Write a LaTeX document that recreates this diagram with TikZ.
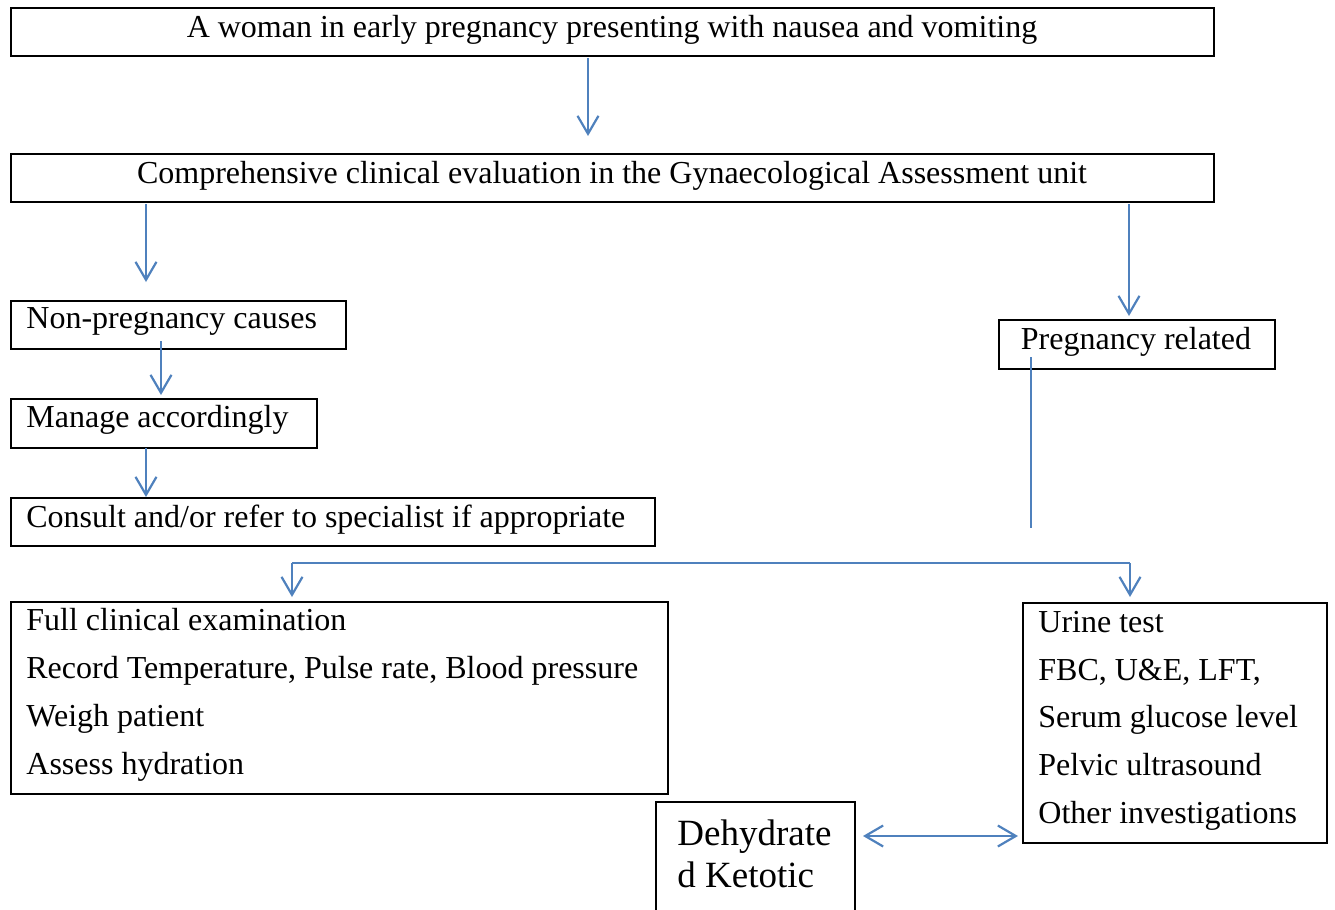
\documentclass[tikz,border=0pt]{standalone}
\usepackage{fontspec}
\setmainfont{Liberation Serif}
\usetikzlibrary{arrows.meta,calc}
\definecolor{arrowblue}{HTML}{4F81BD}
\begin{document}
\begin{tikzpicture}[x=0.5pt,y=-0.5pt,
  box/.style={draw=black, line width=1pt, rectangle, inner sep=0pt, outer sep=0pt, anchor=north west},
  txt/.style={inner sep=0pt, font=\fontsize{16pt}{19pt}\selectfont},
  bigtxt/.style={inner sep=0pt, font=\fontsize{18.5pt}{22pt}\selectfont},
  arr/.style={draw=arrowblue, line width=1.1pt, -{Straight Barb[length=9pt,width=10.5pt,line width=1.1pt]}},
  dblarr/.style={draw=arrowblue, line width=1.1pt, {Straight Barb[length=9pt,width=10.5pt,line width=1.1pt]}-{Straight Barb[length=9pt,width=10.5pt,line width=1.1pt]}},
  plainline/.style={draw=arrowblue, line width=1.1pt}]
\useasboundingbox (0,0) rectangle (1335,910);
\clip (0,0) rectangle (1335,910);

% boxes
\node[box, minimum width=601.5pt, minimum height=24pt] (b1) at (11,8) {};
\node[box, minimum width=601.5pt, minimum height=24pt] (b2) at (11,154) {};
\node[box, minimum width=167.5pt, minimum height=24pt] (np) at (11,301) {};
\node[box, minimum width=153pt, minimum height=24.5pt] (ma) at (11,399) {};
\node[box, minimum width=322pt, minimum height=24pt] (co) at (11,498) {};
\node[box, minimum width=138pt, minimum height=24.5pt] (pr) at (999,320) {};
\node[box, minimum width=328.5pt, minimum height=96pt] (fc) at (11,602) {};
\node[box, minimum width=152pt, minimum height=120pt] (ur) at (1023,603) {};
\node[box, line width=0.8pt, minimum width=99.5pt, minimum height=65pt] (de) at (656,802) {};

% texts
\node[txt, anchor=base] (t1) at (612,37) {A woman in early pregnancy presenting with nausea and vomiting};
\node[txt, anchor=base] (t2) at (612,183) {Comprehensive clinical evaluation in the Gynaecological Assessment unit};
\node[txt, anchor=base west] (tnp) at (26,328) {Non-pregnancy causes};
\node[txt, anchor=base west] (tma) at (26,427) {Manage accordingly};
\node[txt, anchor=base west] (tco) at (26,527) {Consult and/or refer to specialist if appropriate};
\node[txt, anchor=base] (tpr) at (1136,349) {Pregnancy related};
\node[txt, anchor=base west] (tf1) at (26,630) {Full clinical examination};
\node[txt, anchor=base west] (tf2) at (26,678) {Record Temperature, Pulse rate, Blood pressure};
\node[txt, anchor=base west] (tf3) at (26,726) {Weigh patient};
\node[txt, anchor=base west] (tf4) at (26,774) {Assess hydration};
\node[txt, anchor=base west] (tu1) at (1038,632) {Urine test};
\node[txt, anchor=base west] (tu2) at (1038,680) {FBC, U\&E, LFT,};
\node[txt, anchor=base west] (tu3) at (1038,727) {Serum glucose level};
\node[txt, anchor=base west] (tu4) at (1038,775) {Pelvic ultrasound};
\node[txt, anchor=base west] (tu5) at (1038,823) {Other investigations};
\node[bigtxt, anchor=base west] (td1) at (677,845) {Dehydrate};
\node[bigtxt, anchor=base west] (td2) at (677,887) {d Ketotic};

% connectors
\draw[arr] ($(b1.south west)+(577,2)$) -- ($(b2.north west)+(577,-18)$);
\draw[arr] ($(b2.south west)+(135,2)$) -- ($(np.north west)+(135,-19)$);
\draw[arr] ($(b2.south west)+(1118,2)$) -- ($(pr.north west)+(130,-4)$);
\draw[arr] ($(np.south west)+(150,-8)$) -- ($(ma.north west)+(150,-4)$);
\draw[arr] ($(ma.south west)+(135,0)$) -- ($(co.north west)+(135,-1)$);
\coordinate (pe) at (1031,528);
\draw[plainline] ($(pr.north west)+(32,37)$) -- (pe);
\coordinate (jl) at (292,563);
\coordinate (jr) at (1130,563);
\draw[plainline] (jl) -- (jr);
\draw[arr] (jl) -- ($(fc.north west)+(281,-5)$);
\draw[arr] (jr) -- ($(ur.north west)+(107,-6)$);
\draw[dblarr] ($(de.north east)+(8,34)$) -- ($(ur.south west)+(-5,-7)$);
\end{tikzpicture}
\end{document}
